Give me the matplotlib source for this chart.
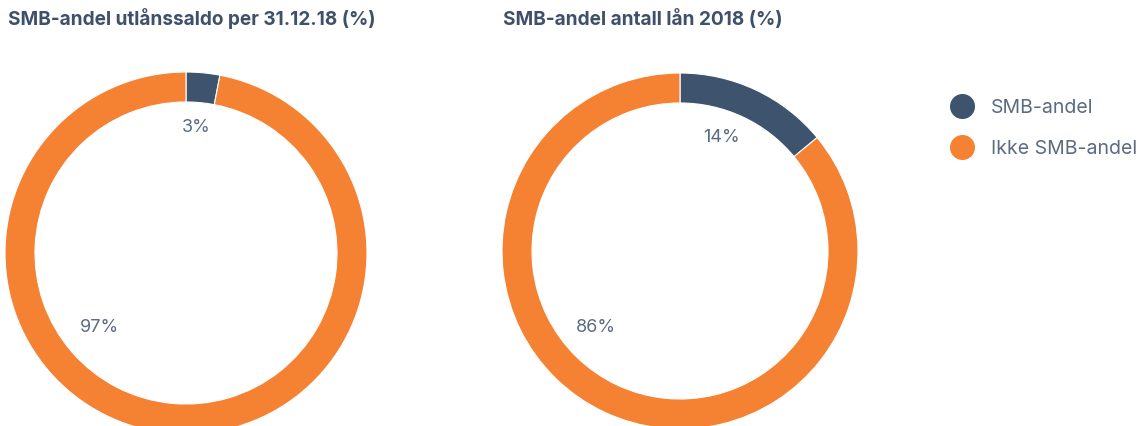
import matplotlib

matplotlib.use("Agg")
import matplotlib.pyplot as plt
from matplotlib.lines import Line2D

plt.rcParams["font.family"] = ["Inter", "DejaVu Sans"]

titles = ["SMB-andel utlånssaldo per 31.12.18 (%)", "SMB-andel antall lån 2018 (%)"]
categories = ["SMB-andel", "Ikke SMB-andel"]
values_saldo = [3, 97]
values_antall = [14, 86]
colors = ["#3e546e", "#f58233"]
text_dark = "#3e506a"
text_light = "#5b6b80"

W, H = 1143, 426
fig = plt.figure(figsize=(W / 100, H / 100), dpi=100)
ax = fig.add_axes([0, 0, 1, 1])

# (values, center x, center y in pixels from top, radius, title x, label offsets)
donuts = [
    (values_saldo, 186, 253, 181, 8, [(10, -125), (-87, 74)]),
    (values_antall, 680, 251, 178, 503, [(42, -113), (-84, 76)]),
]

for (vals, cx, cy, r, tx, offsets), title in zip(donuts, titles):
    ax.pie(vals, colors=colors, startangle=90, counterclock=False,
           center=(cx, H - cy), radius=r, frame=True,
           wedgeprops=dict(width=30, edgecolor="white", linewidth=0.8))
    for v, (dx, dy) in zip(vals, offsets):
        ax.text(cx + dx, H - cy - dy, f"{v}%", ha="center", va="center",
                fontsize=13, color=text_light)
    fig.text(tx / W, 1 - 19 / H, title, ha="left", va="center",
             fontsize=13.7, fontweight="bold", color=text_dark)

ax.set_xlim(0, W)
ax.set_ylim(0, H)
ax.set_aspect("equal")
ax.axis("off")

handles = [Line2D([], [], marker="o", ls="", ms=17, color=c) for c in colors]
fig.legend(handles, categories, loc="upper left", bbox_to_anchor=(944 / W, 1 - 91 / H),
           frameon=False, fontsize=14, labelcolor=text_light, handletextpad=1.0,
           labelspacing=1.2, handlelength=1.0, borderaxespad=0)

fig.savefig("out.png", dpi=100)
